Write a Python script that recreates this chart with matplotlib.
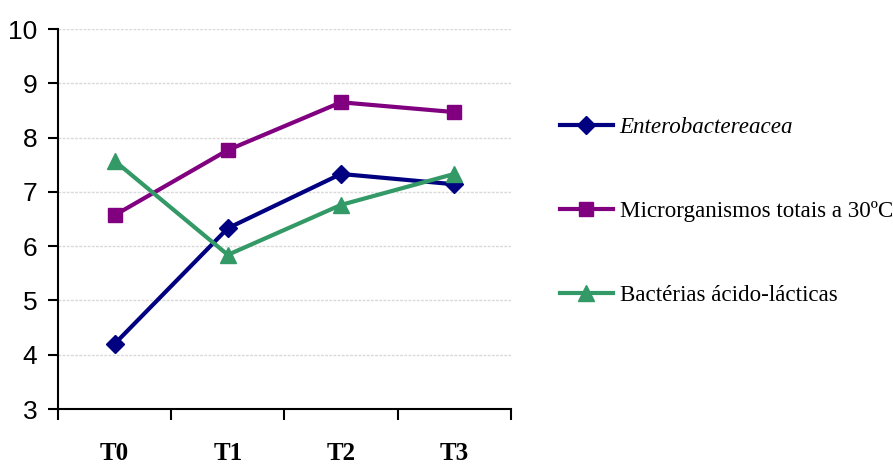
import numpy as np
import matplotlib.pyplot as plt

# data
categories = ['T0', 'T1', 'T2', 'T3']
entero = [4.2, 6.33, 7.33, 7.14]
micro = [6.57, 7.77, 8.65, 8.47]
bact = [7.57, 5.84, 6.76, 7.33]
labels = ['Enterobactereacea', 'Microrganismos totais a 30ºC', 'Bactérias ácido-lácticas']

fig = plt.figure(figsize=(8.93, 4.65), dpi=100)
ax = fig.add_axes([0.065, 0.1204, 0.507, 0.8172])

x = np.arange(len(categories))
ax.plot(x, entero, color='#000080', lw=3, marker='D', ms=9.5, label=labels[0])
ax.plot(x, micro, color='#800080', lw=3, marker='s', ms=9.5, label=labels[1])
ax.plot(x, bact, color='#339966', lw=3, marker='^', ms=11.5, label=labels[2])

ax.set_xlim(-0.5, len(categories) - 0.5)
ax.set_ylim(3, 10)
ax.set_yticks(range(3, 11))
ax.yaxis.grid(True, color='#d9d9d9', lw=1, ls=(0, (2, 1)))
ax.set_axisbelow(True)

ax.set_xticks(x)
ax.set_xticklabels(categories, fontfamily='Liberation Serif', fontweight='bold', fontsize=18)
ax.tick_params(axis='x', length=0, pad=24)
ax.set_xticks(np.arange(-0.5, len(categories)), minor=True)
ax.tick_params(axis='x', which='minor', length=8, width=1.5)
ax.tick_params(axis='y', length=7, width=1.5, labelsize=19, pad=8)
for t in ax.get_yticklabels():
    t.set_fontfamily('Liberation Sans')

for s in ['top', 'right']:
    ax.spines[s].set_visible(False)
for s in ['left', 'bottom']:
    ax.spines[s].set_linewidth(1.5)

leg = ax.legend(loc='upper left', bbox_to_anchor=(1.108, 0.768), frameon=False,
                prop={'family': 'Liberation Serif', 'size': 16.6},
                handlelength=2.3, handletextpad=0.3, labelspacing=2.72,
                borderpad=0, borderaxespad=0)
leg.get_texts()[0].set_style('italic')

plt.savefig('out.png', dpi=100)
